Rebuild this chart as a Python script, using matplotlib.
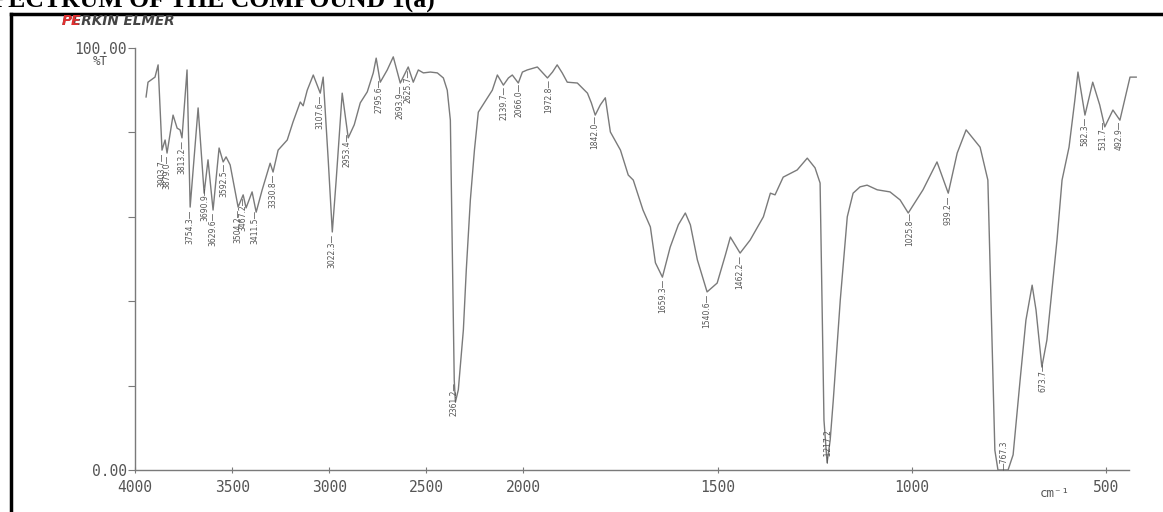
import numpy as np
import matplotlib.pyplot as plt
from matplotlib.lines import Line2D

# spectrum (wavenumber cm-1, %T)
wavenumber = [3943, 3933, 3897, 3881, 3861, 3845, 3835, 3804, 3783, 3768,
              3758, 3732, 3716, 3675, 3644, 3624, 3598, 3567, 3546, 3531,
              3510, 3469, 3443, 3428, 3397, 3376, 3345, 3304, 3289, 3263,
              3216, 3186, 3149, 3134, 3113, 3082, 3046, 3031, 3005, 2984,
              2964, 2933, 2902, 2871, 2840, 2804, 2773, 2758, 2737, 2701,
              2670, 2634, 2593, 2567, 2541, 2515, 2479, 2443, 2412, 2392,
              2376, 2366, 2356, 2350, 2335, 2309, 2294, 2273, 2252, 2232,
              2206, 2185, 2160, 2134, 2103, 2077, 2057, 2026, 2005, 1990,
              1964, 1938, 1925, 1913, 1900, 1887, 1861, 1835, 1825, 1815,
              1802, 1789, 1776, 1750, 1730, 1717, 1692, 1673, 1660, 1642,
              1622, 1601, 1583, 1570, 1552, 1527, 1501, 1480, 1467, 1442,
              1416, 1382, 1364, 1352, 1331, 1295, 1269, 1249, 1236, 1231,
              1226, 1218, 1210, 1202, 1184, 1166, 1151, 1133, 1115, 1089,
              1056, 1030, 1009, 971, 935, 906, 883, 860, 824, 804,
              794, 786, 778, 752, 739, 721, 706, 690, 680, 665,
              652, 639, 626, 613, 595, 580, 572, 554, 534, 516,
              503, 482, 464, 438, 422]
transmittance = [88.4, 91.9, 93.1, 96.0, 75.8, 78.2, 75.1, 84.1, 81.0, 80.6,
                 78.7, 94.8, 62.3, 85.8, 65.6, 73.5, 61.6, 76.3, 73.0, 74.2,
                 72.3, 62.3, 65.2, 62.1, 65.9, 61.1, 66.4, 72.7, 70.6, 75.8,
                 78.2, 82.5, 87.2, 86.3, 90.0, 93.6, 89.3, 93.1, 73.5, 56.4,
                 68.7, 89.3, 78.7, 81.8, 87.0, 89.6, 94.1, 97.6, 91.9, 94.8,
                 97.9, 91.7, 95.5, 91.9, 94.8, 94.1, 94.3, 94.1, 92.9, 90.0,
                 82.9, 52.1, 21.3, 16.1, 19.0, 33.2, 47.4, 64.0, 75.8, 84.8,
                 86.7, 88.2, 90.0, 93.6, 91.2, 92.9, 93.6, 91.7, 94.3, 94.8,
                 95.5, 92.9, 94.3, 96.0, 94.1, 91.9, 91.7, 89.3, 87.0, 84.1,
                 86.5, 88.2, 80.1, 75.8, 69.9, 68.7, 61.6, 57.6, 49.1, 45.7,
                 52.8, 58.1, 60.9, 58.1, 49.8, 42.2, 44.3, 50.9, 55.2, 51.4,
                 54.5, 60.0, 65.6, 65.2, 69.4, 71.1, 73.9, 71.6, 68.0, 40.3,
                 11.8, 1.7, 7.1, 16.6, 40.3, 60.0, 65.6, 67.1, 67.5, 66.4,
                 65.9, 64.0, 60.9, 66.4, 73.0, 65.6, 75.1, 80.6, 76.5, 68.7,
                 33.2, 4.7, 0.0, 0.0, 3.6, 21.3, 35.5, 43.8, 37.9, 24.4,
                 30.8, 42.7, 54.5, 68.7, 76.5, 87.7, 94.3, 84.1, 91.9, 86.5,
                 81.3, 85.3, 82.9, 93.1, 93.1]

# peak labels printed by the instrument, and where they sit on the trace
peak_text = ['3903.7', '3879.0', '3813.2', '3754.3', '3690.9', '3629.6', '3592.5',
             '3504.2', '3467.2', '3411.5', '3330.8', '3107.6', '3022.3', '2953.4',
             '2795.6', '2693.9', '2625.7', '2361.2', '2139.7', '2066.0', '1972.8',
             '1842.0', '1659.3', '1540.6', '1462.2', '1025.8', '939.2', '673.7',
             '582.3', '531.7', '492.9']
peak_pos = [3861, 3835, 3758, 3716, 3639, 3598, 3541,
            3469, 3443, 3381, 3289, 3046, 2984, 2907,
            2742, 2634, 2593, 2356, 2098, 2021, 1936,
            1817, 1642, 1527, 1442, 1004, 906, 662,
            554, 508, 467]
# two labels drawn inside the deepest bands
inner_text = ['1217.2', '767.3']
inner_pos = [1218, 765]

x_ticks = [4000, 3500, 3000, 2500, 2000, 1500, 1000, 500]
y_ticks = [0, 20, 40, 60, 80, 100]
y_ticklabels = ['0.00', '', '', '', '', '100.00']

grey = '#7a7a7a'
text_grey = '#555555'


def fwd(w):
    # chart paper is compressed 2:1 above 2000 cm-1
    w = np.asarray(w, dtype=float)
    return np.where(w >= 2000, 1000 + (w - 2000) / 2, w - 1000)


def inv(t):
    t = np.asarray(t, dtype=float)
    return np.where(t >= 1000, 2000 + 2 * (t - 1000), t + 1000)


fig = plt.figure(figsize=(11.63, 5.12), dpi=100)
ax = fig.add_axes([135 / 1163, 42 / 512, 1002 / 1163, 422 / 512])
ax.set_xscale('function', functions=(fwd, inv))
ax.set_xlim(4000, 420)
ax.set_ylim(0, 100)

ax.plot(wavenumber, transmittance, color=grey, lw=1.0, clip_on=False)

wn_up = np.array(wavenumber[::-1], dtype=float)
t_up = np.array(transmittance[::-1], dtype=float)
for txt, pos in zip(peak_text, peak_pos):
    ax.annotate(txt + '\u2014', xy=(pos, np.interp(pos, wn_up, t_up)),
                xytext=(0, -1.5), textcoords='offset points',
                rotation=90, ha='center', va='top',
                fontsize=5.5, color=text_grey)
for txt, pos in zip(inner_text, inner_pos):
    ax.annotate('\u2014' + txt, xy=(pos, np.interp(pos, wn_up, t_up)),
                xytext=(1, 0), textcoords='offset points',
                rotation=90, ha='center', va='bottom',
                fontsize=5.5, color=text_grey)

# axes styled like the plotter paper
for side in ['top', 'right']:
    ax.spines[side].set_visible(False)
for side in ['left', 'bottom']:
    ax.spines[side].set_color(grey)
    ax.spines[side].set_linewidth(1.0)
ax.spines['left'].set_bounds(0, 100)
ax.spines['bottom'].set_bounds(4000, 440)

ax.set_xticks(x_ticks)
ax.set_xticklabels([str(v) for v in x_ticks])
ax.xaxis.set_minor_locator(plt.NullLocator())
ax.set_yticks(y_ticks)
ax.set_yticklabels(y_ticklabels)
ax.tick_params(axis='x', direction='inout', length=5, color=grey, pad=5,
               labelsize=10.5, labelcolor=text_grey)
ax.tick_params(axis='y', direction='out', length=5, color=grey, pad=1,
               labelsize=10.5, labelcolor=text_grey)
for lab in ax.get_xticklabels() + ax.get_yticklabels():
    lab.set_family('DejaVu Sans Mono')

ax.text(-0.035, 0.967, '%T', transform=ax.transAxes, ha='center', va='center',
        fontsize=9, color=text_grey, family='DejaVu Sans Mono')
ax.text(0.918, -0.055, 'cm\u207b\u00b9', transform=ax.transAxes, ha='center',
        va='center', fontsize=9, color=text_grey,
        family=['DejaVu Sans Mono', 'DejaVu Sans'])

# maker's name, first two letters printed red
fig.text(62 / 1163, 1 - 21 / 512, 'PERKIN ELMER', ha='left', va='center',
         fontsize=9.8, fontweight='bold', style='italic', color='#444444')
fig.text(62 / 1163, 1 - 21 / 512, 'PE', ha='left', va='center',
         fontsize=9.8, fontweight='bold', style='italic', color='#e03030')

# page heading, cut off by the scan
fig.text(-22 / 1163, 1 - 8 / 512, 'SPECTRUM OF THE COMPOUND 1(a)', ha='left',
         va='baseline', fontsize=18.5, fontweight='bold',
         family='Liberation Serif', color='black')

# frame of the page box
fig.add_artist(Line2D([10.5 / 1163, 1.0], [1 - 14 / 512, 1 - 14 / 512],
                      transform=fig.transFigure, color='black', lw=2.5))
fig.add_artist(Line2D([10.5 / 1163, 10.5 / 1163], [0, 1 - 14 / 512],
                      transform=fig.transFigure, color='black', lw=2.5))

fig.savefig('out.png', dpi=100)
